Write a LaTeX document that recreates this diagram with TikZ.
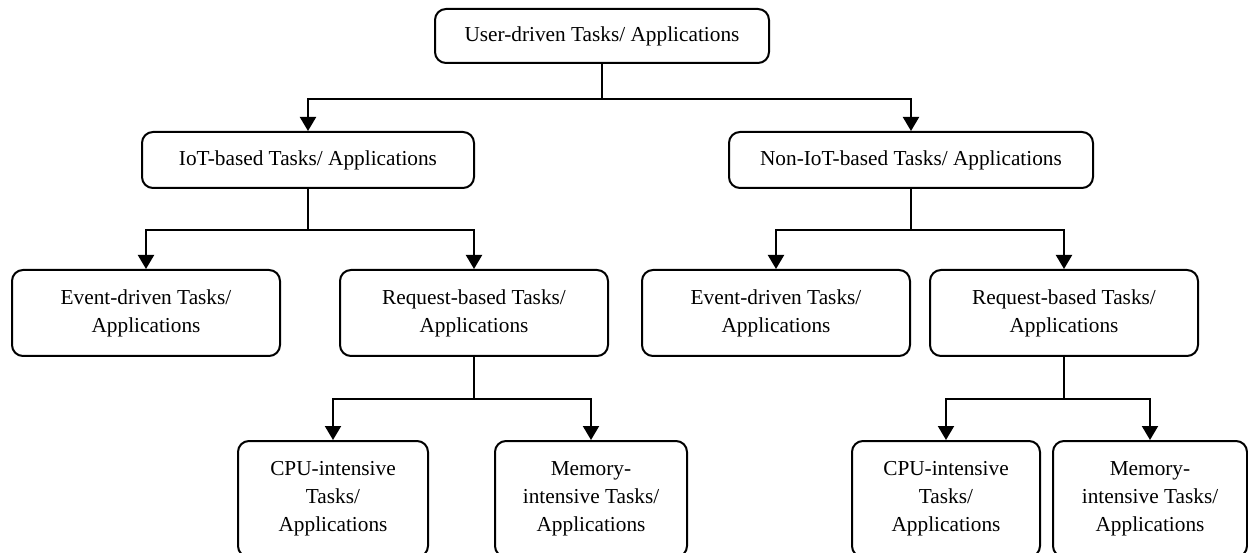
\documentclass[tikz,border=0pt]{standalone}
\usepackage{fontspec}
\setmainfont{Liberation Serif}
\usetikzlibrary{arrows.meta}
\tikzset{
  box/.style={draw, line width=2pt, rounded corners=11pt, align=center,
    inner sep=0pt, font=\fontsize{21.3}{28}\selectfont},
  conn/.style={line width=2pt, -{Triangle[width=16pt,length=14pt]}}
}
\begin{document}
\begin{tikzpicture}[x=1pt,y=-1pt]
\useasboundingbox (0,0) rectangle (1248,553);
% level 0
\node[box, minimum width=334pt, minimum height=54pt] (top) at (602,36) {User-driven Tasks/ Applications};
% level 1
\node[box, minimum width=332pt, minimum height=56pt] (iot) at (308,160) {IoT-based Tasks/ Applications};
\node[box, minimum width=364pt, minimum height=56pt] (noniot) at (911,160) {Non-IoT-based Tasks/ Applications};
% level 2
\node[box, minimum width=268pt, minimum height=86pt] (ev1) at (146,313) {Event-driven Tasks/\\Applications};
\node[box, minimum width=268pt, minimum height=86pt] (rq1) at (474,313) {Request-based Tasks/\\Applications};
\node[box, minimum width=268pt, minimum height=86pt] (ev2) at (776,313) {Event-driven Tasks/\\Applications};
\node[box, minimum width=268pt, minimum height=86pt] (rq2) at (1064,313) {Request-based Tasks/\\Applications};
% level 3
\node[box, minimum width=190pt, minimum height=116pt] (cpu1) at (333,499) {CPU-intensive\\Tasks/\\Applications};
\node[box, minimum width=192pt, minimum height=116pt] (mem1) at (591,499) {Memory-\\intensive Tasks/\\Applications};
\node[box, minimum width=188pt, minimum height=116pt] (cpu2) at (946,499) {CPU-intensive\\Tasks/\\Applications};
\node[box, minimum width=194pt, minimum height=116pt] (mem2) at (1150,499) {Memory-\\intensive Tasks/\\Applications};
% connectors
\draw[conn] (top.south) -- ++(0,35) -| (iot.north);
\draw[conn] (top.south) -- ++(0,35) -| (noniot.north);
\draw[conn] (iot.south) -- ++(0,41) -| (ev1.north);
\draw[conn] (iot.south) -- ++(0,41) -| (rq1.north);
\draw[conn] (noniot.south) -- ++(0,41) -| (ev2.north);
\draw[conn] (noniot.south) -- ++(0,41) -| (rq2.north);
\draw[conn] (rq1.south) -- ++(0,42) -| (cpu1.north);
\draw[conn] (rq1.south) -- ++(0,42) -| (mem1.north);
\draw[conn] (rq2.south) -- ++(0,42) -| (cpu2.north);
\draw[conn] (rq2.south) -- ++(0,42) -| (mem2.north);
\end{tikzpicture}
\end{document}
